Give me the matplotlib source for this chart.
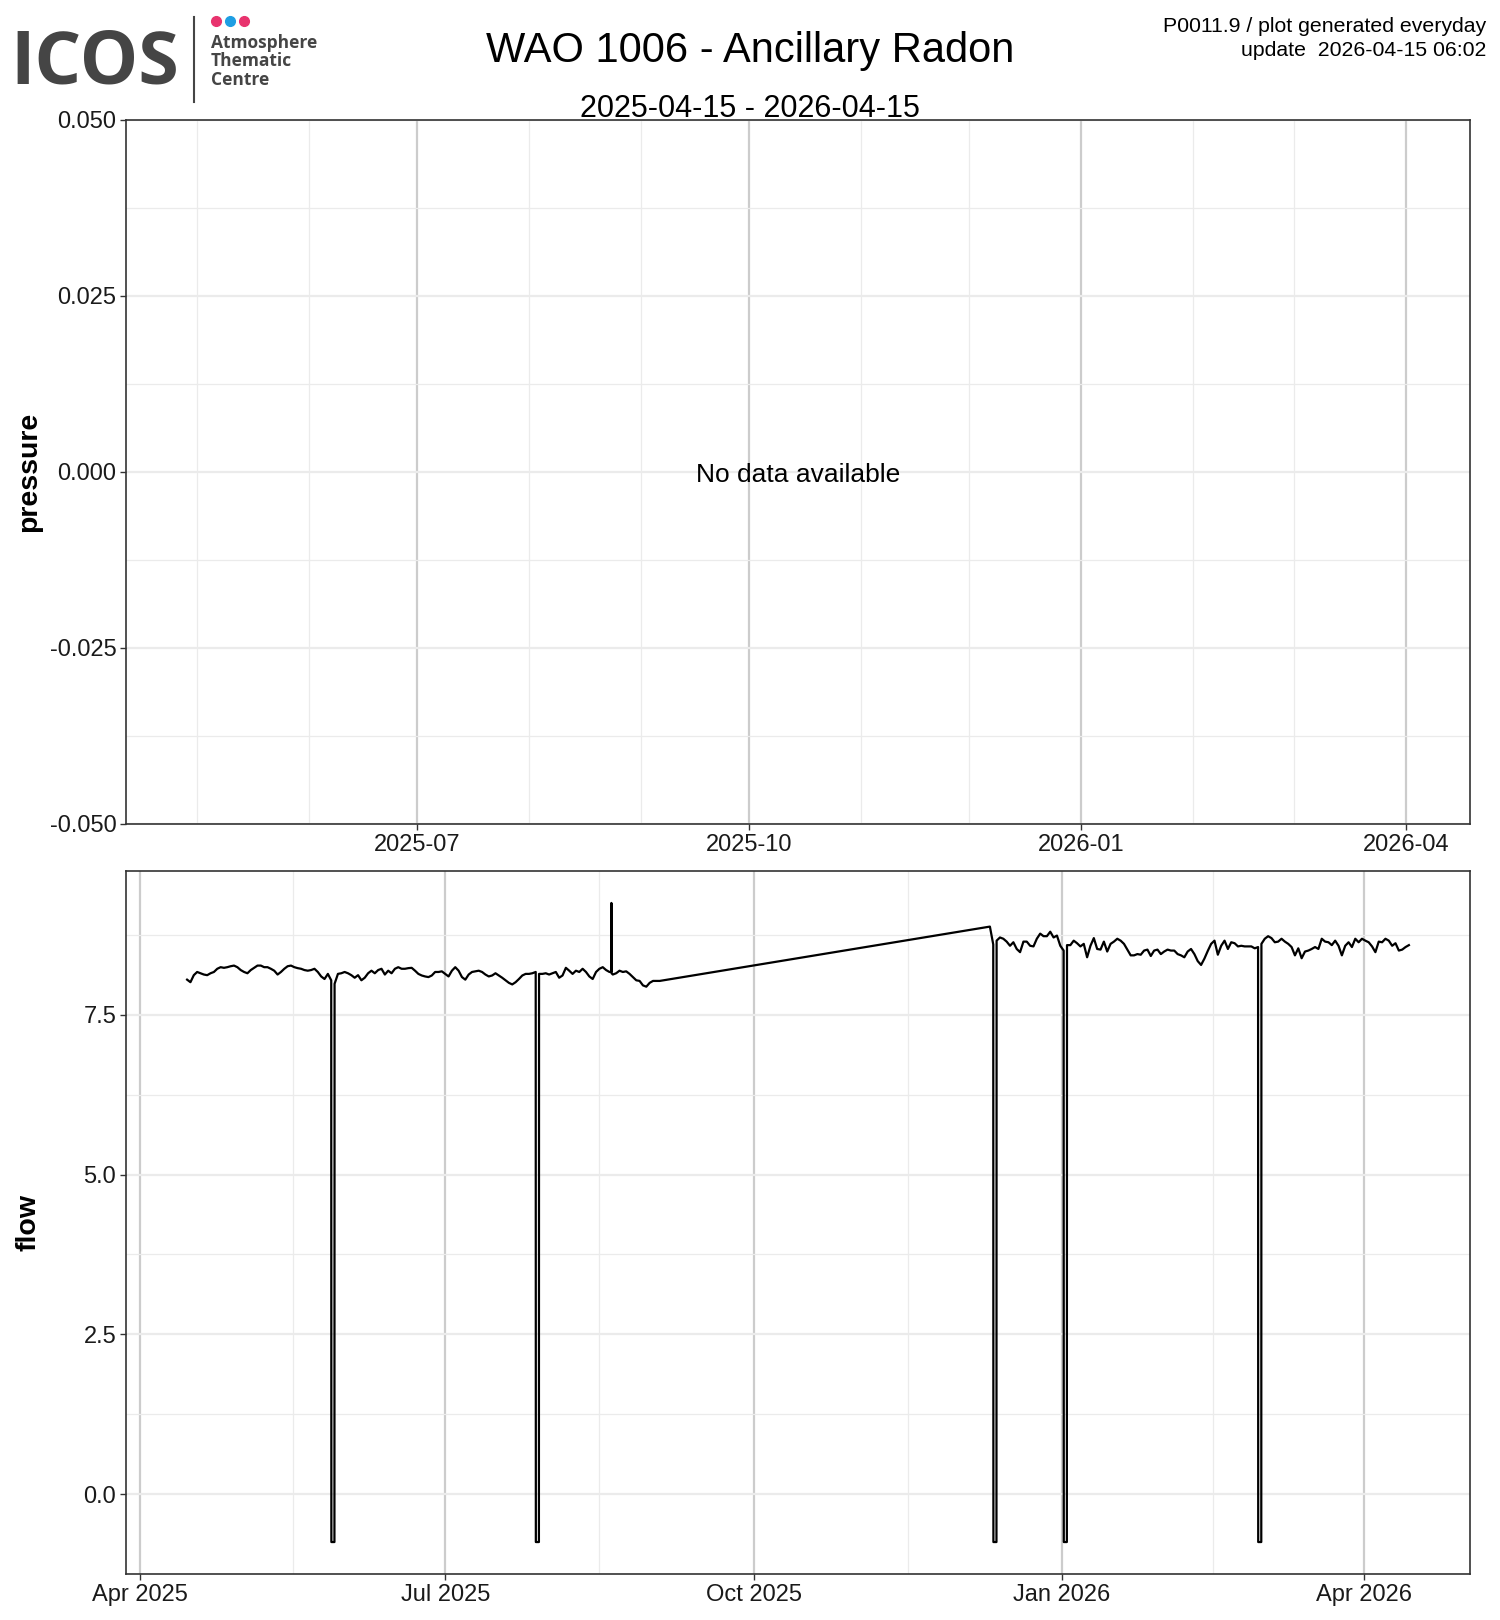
import numpy as np
import pandas as pd
import matplotlib
matplotlib.use('Agg')
import matplotlib.pyplot as plt
import matplotlib.dates as mdates
from matplotlib.ticker import AutoMinorLocator, FixedLocator, FormatStrFormatter

plt.rcParams['font.family'] = ['Liberation Sans', 'DejaVu Sans']
plt.rcParams['axes.unicode_minus'] = False

# flow, daily readings, first block starts 2025-04-15
seg1_start = '2025-04-15'
seg1_flow = [8.05, 8.01, 8.12, 8.17, 8.15, 8.13, 8.12, 8.15, 8.17, 8.22,
             8.245, 8.235, 8.245, 8.26, 8.27, 8.245, 8.2, 8.17, 8.15, 8.2,
             8.235, 8.27, 8.27, 8.245, 8.245, 8.22, 8.19, 8.13, 8.17, 8.22,
             8.26, 8.27, 8.245, 8.23, 8.22, 8.2, 8.19, 8.2, 8.22, 8.17,
             8.1, 8.06, 8.14, 8.04, 7.985, 8.14, 8.15, 8.17, 8.15, 8.12,
             8.08, 8.12, 8.04, 8.08, 8.15, 8.19, 8.15, 8.2, 8.22, 8.13,
             8.19, 8.15, 8.22, 8.245, 8.22, 8.22, 8.23, 8.235, 8.19, 8.14,
             8.115, 8.1, 8.09, 8.115, 8.17, 8.17, 8.18, 8.14, 8.1, 8.19,
             8.245, 8.19, 8.09, 8.05, 8.13, 8.17, 8.18, 8.19, 8.17, 8.13,
             8.1, 8.115, 8.15, 8.115, 8.08, 8.04, 8.0, 7.975, 8.01, 8.06,
             8.115, 8.14, 8.14, 8.15, 8.17, 8.14, 8.14, 8.15, 8.13, 8.15,
             8.17, 8.08, 8.115, 8.235, 8.19, 8.14, 8.19, 8.17, 8.22, 8.17,
             8.1, 8.06, 8.17, 8.22, 8.245, 8.2, 8.17, 8.13, 8.15, 8.19,
             8.17, 8.18, 8.14, 8.09, 8.04, 8.03, 7.96, 7.94, 8.0, 8.03,
             8.03, 8.03]

# second block after the gap
seg2_start = '2025-12-10 12:00'
seg2_flow = [8.88, 8.6, 8.66, 8.71, 8.69, 8.645, 8.58, 8.635, 8.53, 8.48,
             8.645, 8.645, 8.58, 8.57, 8.69, 8.77, 8.73, 8.73, 8.8, 8.71,
             8.74, 8.58, 8.505, 8.59, 8.59, 8.66, 8.62, 8.57, 8.61, 8.40,
             8.58, 8.70, 8.53, 8.52, 8.645, 8.49, 8.61, 8.645, 8.69, 8.66,
             8.61, 8.52, 8.43, 8.43, 8.45, 8.44, 8.505, 8.52, 8.42, 8.505,
             8.52, 8.45, 8.49, 8.52, 8.505, 8.505, 8.45, 8.43, 8.40, 8.49,
             8.53, 8.45, 8.34, 8.28, 8.38, 8.5, 8.61, 8.66, 8.44, 8.58,
             8.66, 8.53, 8.635, 8.62, 8.57, 8.58, 8.57, 8.57, 8.57, 8.54,
             8.56, 8.61, 8.69, 8.73, 8.70, 8.635, 8.645, 8.69, 8.645, 8.61,
             8.56, 8.43, 8.54, 8.385, 8.49, 8.505, 8.53, 8.56, 8.53, 8.69,
             8.645, 8.635, 8.59, 8.66, 8.58, 8.43, 8.58, 8.635, 8.56, 8.69,
             8.635, 8.69, 8.66, 8.635, 8.57, 8.48, 8.645, 8.635, 8.69, 8.66,
             8.58, 8.62, 8.505, 8.52, 8.56, 8.59]

# flow dropouts (start, end) at the bottom level
dropout_start = ['2025-05-28 01:00', '2025-07-28 01:00', '2025-12-11 13:00',
                 '2026-01-01 13:00', '2026-02-28 13:00']
dropout_end = ['2025-05-28 23:00', '2025-07-28 23:00', '2025-12-12 11:00',
               '2026-01-02 11:00', '2026-03-01 11:00']
dropout_level = -0.75

# single spike in August
spike_times = ['2025-08-19 13:00', '2025-08-19 14:00', '2025-08-19 15:00']
spike_values = [8.17, 9.25, 8.15]

period_start = '2025-04-15'
period_end = '2026-04-15'

t1 = pd.date_range(seg1_start, periods=len(seg1_flow), freq='D')
t2 = pd.date_range(seg2_start, periods=len(seg2_flow), freq='D')
flow = pd.Series(seg1_flow + seg2_flow, index=t1.append(t2))
drops = pd.Series(dropout_level, index=pd.to_datetime(dropout_start + dropout_end))
spike = pd.Series(spike_values, index=pd.to_datetime(spike_times))
flow = pd.concat([flow, drops, spike]).sort_index()

W, H = 1500, 1620
fig = plt.figure(figsize=(15, 16.2), dpi=100)
ax1 = fig.add_axes([126 / W, 1 - 824 / H, 1344 / W, 704 / H])
ax2 = fig.add_axes([126 / W, 1 - 1574 / H, 1344 / W, 703 / H])

major_v = '#cccccc'
minor_c = '#ebebeb'


def style(ax):
    ax.set_facecolor('white')
    for s in ax.spines.values():
        s.set_color('#333333')
        s.set_linewidth(1.2)
    ax.tick_params(axis='both', which='major', length=4, width=1.0, color='#333333',
                   labelsize=17, labelcolor='#1a1a1a', pad=3)
    ax.tick_params(axis='both', which='minor', length=0)
    ax.grid(True, which='major', axis='x', color=major_v, linewidth=1.6)
    ax.grid(True, which='major', axis='y', color=minor_c, linewidth=1.6)
    ax.grid(True, which='minor', color=minor_c, linewidth=0.9)
    ax.set_axisbelow(True)


# pressure panel - no data
style(ax1)
ax1.set_xlim(pd.Timestamp(period_start) - pd.Timedelta(hours=88),
             pd.Timestamp(period_end) + pd.Timedelta(hours=90))
ax1.set_ylim(-0.05, 0.05)
ax1.set_yticks([-0.05, -0.025, 0, 0.025, 0.05])
ax1.yaxis.set_major_formatter(FormatStrFormatter('%.3f'))
ax1.yaxis.set_minor_locator(AutoMinorLocator(2))
ax1.xaxis.set_major_locator(mdates.MonthLocator(bymonth=[1, 4, 7, 10]))
ax1.xaxis.set_minor_locator(mdates.MonthLocator())
ax1.xaxis.set_major_formatter(mdates.DateFormatter('%Y-%m'))
ax1.text(0.5, 0.496, 'No data available', transform=ax1.transAxes,
         ha='center', va='center', fontsize=19)
ax1.set_ylabel('pressure', fontsize=20.5, fontweight='bold')

# flow panel
style(ax2)
ax2.plot(flow.index, flow.values, color='black', linewidth=1.6)
ax2.margins(x=0.05, y=0.05)
ax2.set_yticks([0, 2.5, 5, 7.5])
ax2.yaxis.set_major_formatter(FormatStrFormatter('%.1f'))
ax2.yaxis.set_minor_locator(AutoMinorLocator(2))
ax2.xaxis.set_major_locator(mdates.MonthLocator(bymonth=[1, 4, 7, 10]))
ax2.xaxis.set_major_formatter(mdates.DateFormatter('%b %Y'))
lo, hi = ax2.get_xlim()
maj = [m for m in ax2.xaxis.get_majorticklocs() if lo <= m <= hi]
ax2.xaxis.set_minor_locator(FixedLocator([(a + b) / 2 for a, b in zip(maj[:-1], maj[1:])]))
ax2.set_xlim(lo, hi)
ax2.set_ylabel('flow', fontsize=20.5, fontweight='bold')

for ax in (ax1, ax2):
    ax.yaxis.set_label_coords(29 / W, 0.5, transform=fig.transFigure)
    ax.yaxis.label.set_transform(matplotlib.transforms.blended_transform_factory(fig.transFigure, ax.transAxes))
    ax.yaxis.label.set_position((42 / W, 0.5))

# header
fig.text(750 / W, 1 - 51 / H, 'WAO 1006 - Ancillary Radon', ha='center', va='center', fontsize=30)
fig.text(750 / W, 1 - 109 / H, period_start + ' - ' + period_end, ha='center', va='center', fontsize=22)
fig.text(1486 / W, 1 - 27 / H, 'P0011.9 / plot generated everyday', ha='right', va='center', fontsize=15.3)
fig.text(1486 / W, 1 - 51 / H, 'update  2026-04-15 06:02', ha='right', va='center', fontsize=15.3)

# logo
logo_grey = '#454545'
fig.text(10 / W, 1 - 65 / H, 'ICOS', ha='left', va='center', fontsize=53,
         fontweight='bold', family=['Open Sans', 'DejaVu Sans'], color=logo_grey)
fig.add_artist(plt.Line2D([194 / W, 194 / W], [1 - 17 / H, 1 - 102 / H], color=logo_grey, linewidth=1.5))
for xd, cd in zip([216, 230, 244], ['#e8336e', '#1e9ee3', '#e8336e']):
    fig.add_artist(plt.Line2D([xd / W], [1 - 21 / H], marker='o', markersize=7, color=cd, linestyle='none'))
for i, word in enumerate(['Atmosphere', 'Thematic', 'Centre']):
    fig.text(211 / W, 1 - (43 + 18.5 * i) / H, word, ha='left', va='center', fontsize=12.5,
             fontweight='bold', family=['Open Sans', 'DejaVu Sans'], color=logo_grey)

fig.savefig('out.png', dpi=100)
